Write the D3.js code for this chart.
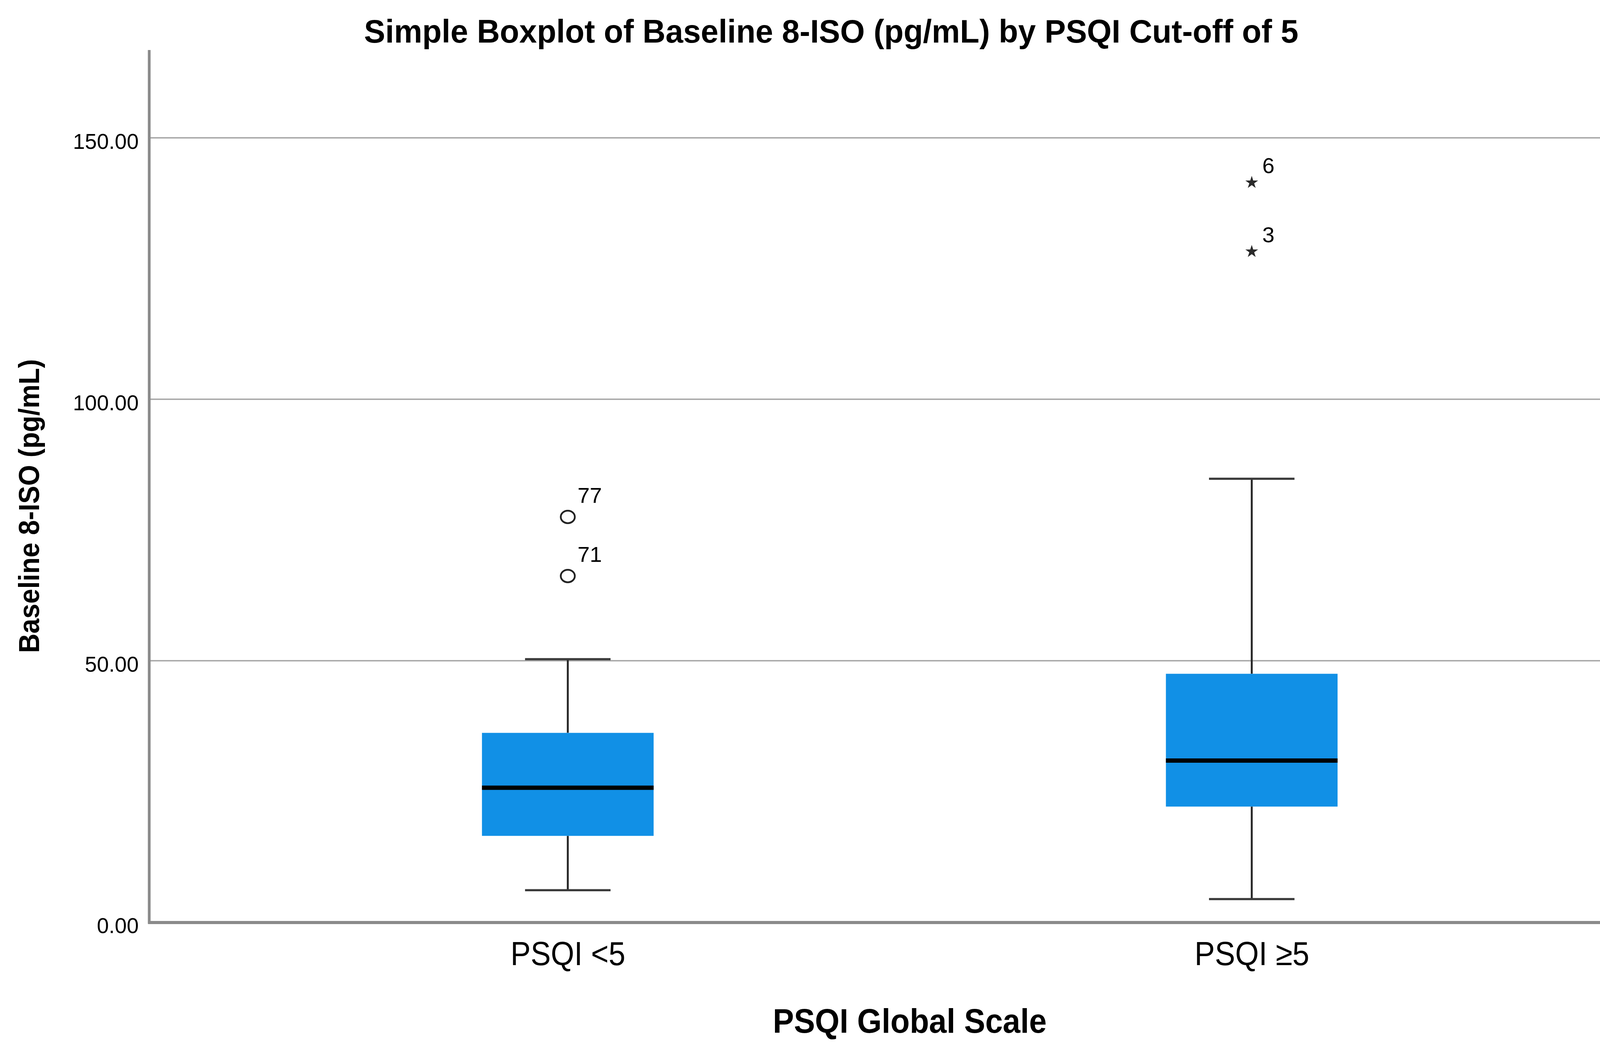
<!DOCTYPE html>
<html>
<head>
<meta charset="utf-8">
<script src="https://cdn.jsdelivr.net/npm/d3@7/dist/d3.min.js"></script>
<style>
  html, body { margin: 0; padding: 0; background: #ffffff; }
  svg { display: block; }
  text { font-family: "Liberation Sans", Arial, sans-serif; fill: #000; }
</style>
</head>
<body>
<svg id="chart" width="4306" height="2677"></svg>
<script>
// ---- data ----
const categories   = ["PSQI <5", "PSQI \u22655"];
const whiskerLow   = [6.1, 4.4];
const q1Values     = [16.5, 22.1];
const medianValues = [25.7, 30.9];
const q3Values     = [36.2, 47.5];
const whiskerHigh  = [50.3, 84.8];

const outlierCategory = ["PSQI <5", "PSQI <5", "PSQI \u22655", "PSQI \u22655"];
const outlierValues   = [77.5, 66.2, 141.6, 128.4];
const outlierLabels   = ["77", "71", "6", "3"];
const outlierKinds    = ["circle", "circle", "star", "star"];

const yTicks = [0, 50, 100, 150];

const titleText  = "Simple Boxplot of Baseline 8-ISO (pg/mL) by PSQI Cut-off of 5";
const xTitleText = "PSQI Global Scale";
const yTitleText = "Baseline 8-ISO (pg/mL)";

(function () {
// ---- layout ----
const W = 4306, H = 2677;
const pLeft = 382, pRight = 4276, pTop = 128, pBottom = 2360;

const svg = d3.select("#chart");
svg.append("rect").attr("width", W).attr("height", H).attr("fill", "#fff");

const x = d3.scalePoint().domain(categories).range([pLeft, pRight]).padding(0.612);
const y = d3.scaleLinear().domain([0, 166.8]).range([pBottom, pTop]);

const step = x.step();
const boxW = step * 0.251;
const capW = step * 0.125;

// gridlines
svg.append("g")
  .selectAll("line")
  .data(yTicks.filter(d => d > 0))
  .join("line")
  .attr("x1", pLeft).attr("x2", pRight)
  .attr("y1", d => y(d)).attr("y2", d => y(d))
  .attr("stroke", "#a6a6a6").attr("stroke-width", 3.5);

// y axis tick labels
const yAxis = d3.axisLeft(y).tickValues(yTicks).tickFormat(d3.format(".2f")).tickSize(0).tickPadding(27);
const gy = svg.append("g").attr("transform", `translate(${pLeft},0)`).call(yAxis);
gy.select(".domain").remove();
gy.selectAll("text")
  .attr("font-size", 55)
  .attr("font-family", "Liberation Sans, Arial, sans-serif")
  .attr("fill", "#111")
  .attr("dy", "0.5em");

// x axis labels
const xAxis = d3.axisBottom(x).tickSize(0).tickPadding(0);
const gx = svg.append("g").attr("transform", `translate(0,${pBottom})`).call(xAxis);
gx.select(".domain").remove();
gx.selectAll("text")
  .attr("font-size", 86)
  .attr("font-family", "Liberation Sans, Arial, sans-serif")
  .attr("fill", "#000")
  .attr("y", 110)
  .attr("dy", 0)
  .attr("textLength", 294)
  .attr("lengthAdjust", "spacingAndGlyphs");

// boxes
const boxes = svg.append("g");
categories.forEach((c, i) => {
  const cx = x(c);
  const g = boxes.append("g");
  g.append("line")
    .attr("x1", cx).attr("x2", cx)
    .attr("y1", y(q3Values[i])).attr("y2", y(whiskerHigh[i]))
    .attr("stroke", "#2a2a2a").attr("stroke-width", 5);
  g.append("line")
    .attr("x1", cx).attr("x2", cx)
    .attr("y1", y(q1Values[i])).attr("y2", y(whiskerLow[i]))
    .attr("stroke", "#2a2a2a").attr("stroke-width", 5);
  [whiskerHigh[i], whiskerLow[i]].forEach(v => {
    g.append("line")
      .attr("x1", cx - capW / 2).attr("x2", cx + capW / 2)
      .attr("y1", y(v)).attr("y2", y(v))
      .attr("stroke", "#3a3a3a").attr("stroke-width", 5.5);
  });
  g.append("rect")
    .attr("x", cx - boxW / 2).attr("width", boxW)
    .attr("y", y(q3Values[i])).attr("height", y(q1Values[i]) - y(q3Values[i]))
    .attr("fill", "#1190e6");
  g.append("line")
    .attr("x1", cx - boxW / 2).attr("x2", cx + boxW / 2)
    .attr("y1", y(medianValues[i])).attr("y2", y(medianValues[i]))
    .attr("stroke", "#000").attr("stroke-width", 11);
});

// outliers
const og = svg.append("g");
outlierValues.forEach((v, i) => {
  const cx = x(outlierCategory[i]);
  const cy = y(v);
  if (outlierKinds[i] === "circle") {
    og.append("ellipse")
      .attr("cx", cx).attr("cy", cy).attr("rx", 18).attr("ry", 16)
      .attr("fill", "none").attr("stroke", "#222").attr("stroke-width", 4.5);
    og.append("text")
      .attr("x", cx + 25).attr("y", cy - 36)
      .attr("font-size", 56).attr("fill", "#111")
      .text(outlierLabels[i]);
  } else {
    og.append("path")
      .attr("d", d3.symbol().type(d3.symbolStar).size(330)())
      .attr("transform", `translate(${cx},${cy + 2})`)
      .attr("fill", "#2a2a2a");
    og.append("text")
      .attr("x", cx + 27).attr("y", cy - 22)
      .attr("font-size", 56).attr("fill", "#111")
      .text(outlierLabels[i]);
  }
});

// axis lines
svg.append("line")
  .attr("x1", pLeft).attr("x2", pLeft).attr("y1", pTop).attr("y2", pBottom + 4)
  .attr("stroke", "#8a8a8a").attr("stroke-width", 7);
svg.append("line")
  .attr("x1", pLeft - 3).attr("x2", pRight).attr("y1", pBottom + 1).attr("y2", pBottom + 1)
  .attr("stroke", "#8a8a8a").attr("stroke-width", 8);

// titles
svg.append("text")
  .attr("x", 2128).attr("y", 109)
  .attr("text-anchor", "middle")
  .attr("font-size", 84).attr("font-weight", "bold")
  .attr("textLength", 2392).attr("lengthAdjust", "spacingAndGlyphs")
  .text(titleText);

svg.append("text")
  .attr("x", (pLeft + pRight) / 2).attr("y", 2643)
  .attr("text-anchor", "middle")
  .attr("font-size", 88).attr("font-weight", "bold")
  .attr("textLength", 701).attr("lengthAdjust", "spacingAndGlyphs")
  .text(xTitleText);

svg.append("text")
  .attr("transform", `translate(100,1295) rotate(-90)`)
  .attr("text-anchor", "middle")
  .attr("font-size", 74).attr("font-weight", "bold")
  .attr("textLength", 752).attr("lengthAdjust", "spacingAndGlyphs")
  .text(yTitleText);
})();
</script>
</body>
</html>
